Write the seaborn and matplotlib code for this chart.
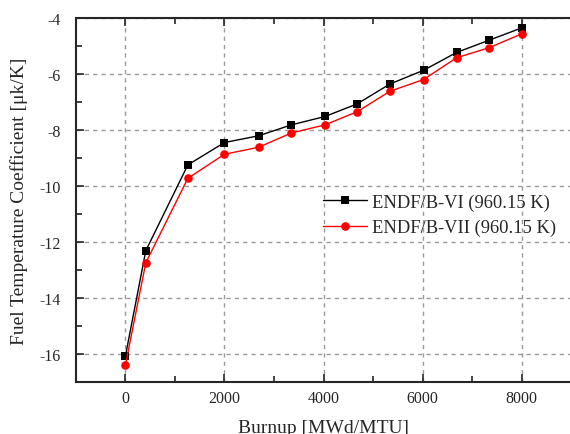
import matplotlib
matplotlib.use("Agg")
import matplotlib.pyplot as plt
import seaborn as sns
from matplotlib.ticker import MultipleLocator

burnup = [0, 410, 1260, 2000, 2690, 3350, 4030, 4680, 5340, 6020, 6690, 7350, 8010]
ftc_b6 = [-16.07, -12.32, -9.25, -8.45, -8.21, -7.82, -7.52, -7.07, -6.36, -5.87, -5.23, -4.79, -4.35]
ftc_b7 = [-16.39, -12.75, -9.73, -8.87, -8.62, -8.11, -7.82, -7.35, -6.62, -6.20, -5.42, -5.06, -4.56]
labels = ["ENDF/B-VI (960.15 K)", "ENDF/B-VII (960.15 K)"]

sns.set_style("ticks")
plt.rcParams["font.family"] = ["Liberation Serif", "DejaVu Serif"]
plt.rcParams["axes.unicode_minus"] = False

fig = plt.figure(figsize=(5.7, 4.35), dpi=100)
ax = fig.add_axes([0.1333, 0.1202, 0.8685, 0.8361])

sns.lineplot(x=burnup, y=ftc_b6, ax=ax, color="black", marker="s", markersize=5.2,
             markeredgewidth=0, linewidth=1, label=labels[0])
sns.lineplot(x=burnup, y=ftc_b7, ax=ax, color="red", marker="o", markersize=6.2,
             markeredgewidth=0, linewidth=1, label=labels[1])

ax.set_xlim(-1000, 9000)
ax.set_ylim(-17, -4)
ax.xaxis.set_major_locator(MultipleLocator(2000))
ax.xaxis.set_minor_locator(MultipleLocator(1000))
ax.yaxis.set_major_locator(MultipleLocator(2))
ax.yaxis.set_minor_locator(MultipleLocator(1))
ax.tick_params(which="both", direction="in", top=True, right=False, labelsize=11.5, width=1.2)
ax.tick_params(which="major", length=6)
ax.tick_params(which="minor", length=4)
ax.tick_params(axis="y", which="both", pad=11)
ax.tick_params(axis="x", which="both", pad=6)
ax.grid(True, which="major", linestyle=(0, (3, 3)), color="#999999", linewidth=1)
for s in ax.spines.values():
    s.set_linewidth(1.5)

ax.set_xlabel("Burnup [MWd/MTU]", fontsize=14, labelpad=9)
ax.set_ylabel("Fuel Temperature Coefficient [μk/K]", fontsize=14, labelpad=8)

ax.legend(loc="upper left", bbox_to_anchor=(0.566, 0.553), bbox_transform=fig.transFigure,
          frameon=False, fontsize=13.3, handlelength=2.4, handletextpad=0.25,
          labelspacing=0.45, borderpad=0, borderaxespad=0)

fig.savefig("out.png", dpi=100)
